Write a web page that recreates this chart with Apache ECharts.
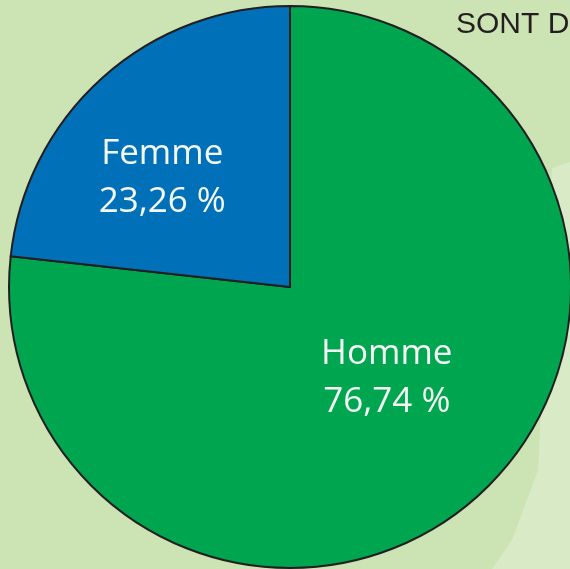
<!DOCTYPE html>
<html>
<head>
<meta charset="utf-8">
<script src="https://cdn.jsdelivr.net/npm/echarts@6/dist/echarts.min.js"></script>
<style>
  html, body { margin: 0; padding: 0; background: #cce3b3; }
  #chart { width: 570px; height: 569px; }
</style>
</head>
<body>
<div id="chart"></div>
<script>
const categories = ['Homme', 'Femme']
const shares = [76.74, 23.26]
const colors = ['#00a54f', '#0070b8']

const chart = echarts.init(document.getElementById('chart'))

chart.setOption({
  backgroundColor: '#cce3b3',
  animation: false,
  graphic: [
    {
      // faint lighter shape behind the pie, bottom right
      type: 'polygon',
      z: -10,
      shape: { points: [[552, 168], [570, 162], [570, 569], [492, 569], [512, 540], [538, 470]] },
      style: { fill: '#d9eac6' },
    },
    {
      type: 'text',
      left: 456,
      top: 10,
      style: {
        text: 'SONT D',
        font: '30px "Liberation Sans", Arial, sans-serif',
        fill: '#231f20',
      },
    },
  ],
  series: [
    {
      type: 'pie',
      center: [290, 287],
      radius: 281,
      startAngle: 90,
      clockwise: true,
      silent: true,
      itemStyle: {
        borderColor: '#231f20',
        borderWidth: 2,
      },
      label: {
        show: true,
        position: 'inside',
        color: '#f4f8f4',
        fontFamily: '"Open Sans", "Noto Sans", sans-serif',
        fontSize: 35,
        lineHeight: 48,
        formatter: (p) => p.name + '\n' + p.value.toFixed(2).replace('.', ',') + ' %',
      },
      labelLine: { show: false },
      labelLayout: (params) => {
        if (params.dataIndex === 1) return { dx: -32, dy: -2 }
        return { dx: 1, dy: -16 }
      },
      data: categories.map((name, i) => ({
        name,
        value: shares[i],
        itemStyle: { color: colors[i] },
      })),
    },
  ],
})
</script>
</body>
</html>
